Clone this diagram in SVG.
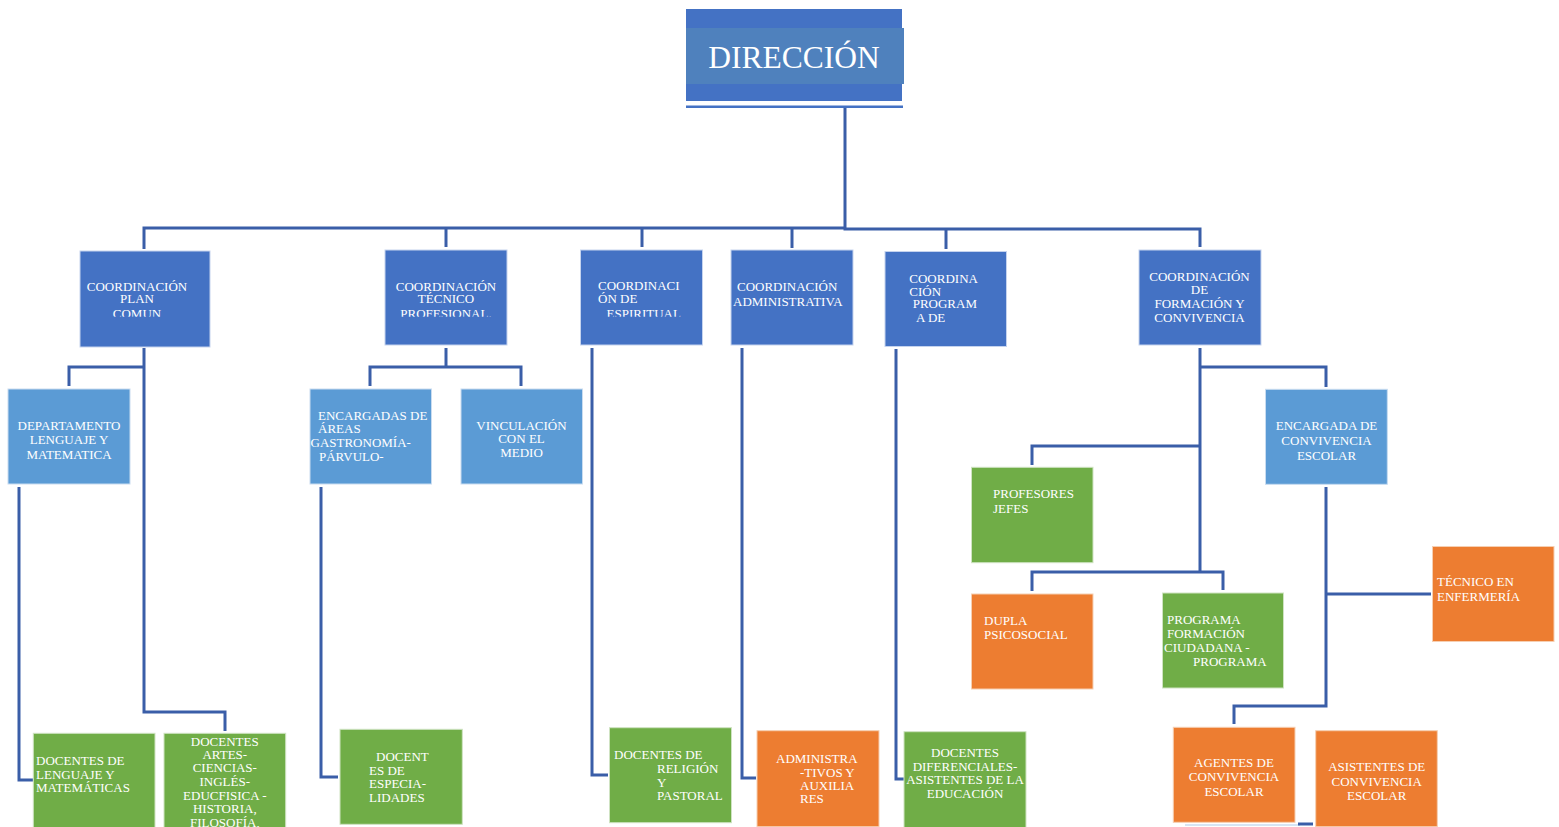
<svg xmlns="http://www.w3.org/2000/svg" width="1559" height="827" viewBox="0 0 1559 827">
<style>
text{font-family:"Liberation Serif","Times New Roman",serif;fill:#ffffff;font-size:13px}
.c{text-anchor:middle}
.dk{fill:#4472c4;stroke:#c5d3ee;stroke-width:1}
.lb{fill:#5b9bd5;stroke:#c9dcf0;stroke-width:1}
.gr{fill:#70ad47;stroke:#cfe3c2;stroke-width:1}
.or{fill:#ed7d31;stroke:#f6cfb2;stroke-width:1}
.ln{fill:none;stroke:#3a5ea8;stroke-width:3}
</style>
<defs>
<clipPath id="clipTop"><rect x="0" y="0" width="1559" height="316.8"/></clipPath>
</defs>
<rect width="1559" height="827" fill="#ffffff"/>

<g id="connectors">
<line x1="686" y1="106.7" x2="903" y2="106.7" stroke="#4472c4" stroke-width="2.5"/>
<polyline class="ln" points="845,108 845,229 1200,229 1200,247"/>
<polyline class="ln" points="845,228 144,228 144,249"/>
<line class="ln" x1="446" y1="228" x2="446" y2="247"/>
<line class="ln" x1="642" y1="228" x2="642" y2="247"/>
<line class="ln" x1="792" y1="228" x2="792" y2="248"/>
<line class="ln" x1="946" y1="229" x2="946" y2="249"/>
<polyline class="ln" points="144,348 144,712 225,712 225,731"/>
<polyline class="ln" points="144,367 69,367 69,386"/>
<polyline class="ln" points="19,487 19,780 33,780"/>
<line class="ln" x1="446" y1="348" x2="446" y2="367"/>
<polyline class="ln" points="370,386 370,367 521,367 521,386"/>
<polyline class="ln" points="321,487 321,777 338,777"/>
<polyline class="ln" points="592,348 592,775 608,775"/>
<polyline class="ln" points="742,348 742,778 756,778"/>
<polyline class="ln" points="896,349 896,779 904,779"/>
<line class="ln" x1="1200" y1="348" x2="1200" y2="573"/>
<polyline class="ln" points="1200,367 1326,367 1326,387"/>
<polyline class="ln" points="1200,446 1032,446 1032,465"/>
<polyline class="ln" points="1032,591 1032,572 1223,572 1223,590"/>
<polyline class="ln" points="1326,487 1326,706 1234,706 1234,724"/>
<line class="ln" x1="1326" y1="594" x2="1431" y2="594"/>
<line x1="1185" y1="825" x2="1300" y2="825" stroke="#c9dcf0" stroke-width="1.5"/>
<line x1="1298" y1="824" x2="1313" y2="824" stroke="#3a5ea8" stroke-width="3"/>
</g>

<g id="direccion">
<rect x="686" y="9" width="216" height="92" fill="#4472c4"/>
<rect x="686" y="28" width="218" height="56" fill="#4f81bd"/>
<text x="794" y="67.5" class="c" style="font-size:31.5px">DIRECCIÓN</text>
</g>

<g id="coord-plan-comun">
<rect class="dk" x="80" y="251" width="130" height="96"/>
<text x="137" y="290.7" class="c">COORDINACIÓN</text>
<text x="137" y="303.3" class="c">PLAN</text>
<text x="137" y="317.5" class="c" clip-path="url(#clipTop)">COMUN</text>
</g>

<g id="coord-tecnico">
<rect class="dk" x="385" y="250" width="122" height="95"/>
<text x="446" y="290.7" class="c">COORDINACIÓN</text>
<text x="446" y="303.3" class="c">TÉCNICO</text>
<text x="446" y="317.5" class="c" clip-path="url(#clipTop)">PROFESIONAL.</text>
</g>

<g id="coord-espiritual">
<rect class="dk" x="580.5" y="250" width="122" height="95"/>
<text x="598" y="290.3">COORDINACI</text>
<text x="598" y="302.7">ÓN DE</text>
<text x="606.5" y="317.5" clip-path="url(#clipTop)">ESPIRITUAL</text>
</g>

<g id="coord-administrativa">
<rect class="dk" x="731" y="250" width="122" height="95"/>
<text x="737" y="290.7">COORDINACIÓN</text>
<text x="733" y="305.7">ADMINISTRATIVA</text>
</g>

<g id="coord-programa">
<rect class="dk" x="885" y="251.5" width="121.5" height="95"/>
<text x="909.3" y="282.7">COORDINA</text>
<text x="909.3" y="295.7">CIÓN</text>
<text x="912.7" y="308.3">PROGRAM</text>
<text x="916" y="321.7">A DE</text>
</g>

<g id="coord-formacion">
<rect class="dk" x="1139" y="250" width="122" height="95"/>
<text x="1199.5" y="280.7" class="c">COORDINACIÓN</text>
<text x="1199.5" y="293.5" class="c">DE</text>
<text x="1199.5" y="307.5" class="c">FORMACIÓN Y</text>
<text x="1199.5" y="321.7" class="c">CONVIVENCIA</text>
</g>

<g id="departamento">
<rect class="lb" x="8" y="389" width="122" height="95"/>
<text x="69" y="430" class="c">DEPARTAMENTO</text>
<text x="69" y="444" class="c">LENGUAJE Y</text>
<text x="69" y="458.5" class="c">MATEMATICA</text>
</g>

<g id="encargadas-areas">
<rect class="lb" x="310" y="389" width="121.5" height="95"/>
<text x="318" y="420">ENCARGADAS DE</text>
<text x="318" y="433.3">ÁREAS</text>
<text x="310.5" y="446.7">GASTRONOMÍA-</text>
<text x="319" y="460.7">PÁRVULO-</text>
</g>

<g id="vinculacion">
<rect class="lb" x="461" y="389" width="121.5" height="95"/>
<text x="521.5" y="430" class="c">VINCULACIÓN</text>
<text x="521.5" y="442.5" class="c">CON EL</text>
<text x="521.5" y="456.5" class="c">MEDIO</text>
</g>

<g id="encargada-convivencia">
<rect class="lb" x="1265.5" y="389.3" width="121.8" height="95"/>
<text x="1326.5" y="430" class="c">ENCARGADA DE</text>
<text x="1326.5" y="444.7" class="c">CONVIVENCIA</text>
<text x="1326.5" y="460" class="c">ESCOLAR</text>
</g>

<g id="profesores-jefes">
<rect class="gr" x="971.5" y="467.3" width="121.5" height="95.4"/>
<text x="993" y="498.3">PROFESORES</text>
<text x="993" y="512.7">JEFES</text>
</g>

<g id="dupla">
<rect class="or" x="971.5" y="594" width="121.5" height="95"/>
<text x="984" y="625">DUPLA</text>
<text x="984" y="639">PSICOSOCIAL</text>
</g>

<g id="programa-formacion">
<rect class="gr" x="1162.5" y="593" width="121" height="95"/>
<text x="1167" y="624">PROGRAMA</text>
<text x="1167" y="638">FORMACIÓN</text>
<text x="1164" y="652">CIUDADANA -</text>
<text x="1193" y="666">PROGRAMA</text>
</g>

<g id="tecnico-enfermeria">
<rect class="or" x="1432.5" y="546.5" width="121.5" height="95"/>
<text x="1437" y="586">TÉCNICO EN</text>
<text x="1437" y="601">ENFERMERÍA</text>
</g>

<g id="docentes-lenguaje">
<rect class="gr" x="33.3" y="733.3" width="121.7" height="96"/>
<text x="36" y="765">DOCENTES DE</text>
<text x="36" y="779">LENGUAJE Y</text>
<text x="36" y="792">MATEMÁTICAS</text>
</g>

<g id="docentes-artes">
<rect class="gr" x="164" y="733.3" width="121.7" height="96"/>
<text x="224.8" y="746" class="c">DOCENTES</text>
<text x="224.8" y="758.5" class="c">ARTES-</text>
<text x="224.8" y="772" class="c">CIENCIAS-</text>
<text x="224.8" y="785.5" class="c">INGLÉS-</text>
<text x="224.8" y="799.5" class="c">EDUCFISICA -</text>
<text x="224.8" y="813" class="c">HISTORIA,</text>
<text x="224.8" y="827" class="c">FILOSOFÍA,</text>
</g>

<g id="docentes-especialidades">
<rect class="gr" x="340" y="729.3" width="122.3" height="95"/>
<text x="376" y="761">DOCENT</text>
<text x="369" y="774.5">ES DE</text>
<text x="369" y="788">ESPECIA-</text>
<text x="369" y="801.7">LIDADES</text>
</g>

<g id="docentes-religion">
<rect class="gr" x="609.5" y="727.7" width="122" height="95"/>
<text x="614" y="759.3">DOCENTES DE</text>
<text x="657" y="773">RELIGIÓN</text>
<text x="657" y="786.5">Y</text>
<text x="657" y="800">PASTORAL</text>
</g>

<g id="administrativos">
<rect class="or" x="757" y="730.7" width="122" height="96"/>
<text x="776" y="763">ADMINISTRA</text>
<text x="800" y="776.7">-TIVOS Y</text>
<text x="800" y="790.3">AUXILIA</text>
<text x="800" y="803">RES</text>
</g>

<g id="docentes-diferenciales">
<rect class="gr" x="904" y="731.7" width="122" height="96"/>
<text x="965" y="756.5" class="c">DOCENTES</text>
<text x="965" y="770.5" class="c">DIFERENCIALES-</text>
<text x="965" y="784.3" class="c">ASISTENTES DE LA</text>
<text x="965" y="798.3" class="c">EDUCACIÓN</text>
</g>

<g id="agentes-convivencia">
<rect class="or" x="1173.3" y="727.3" width="121.7" height="95"/>
<text x="1234" y="767" class="c">AGENTES DE</text>
<text x="1234" y="781" class="c">CONVIVENCIA</text>
<text x="1234" y="795.5" class="c">ESCOLAR</text>
</g>

<g id="asistentes-convivencia">
<rect class="or" x="1315.7" y="730.7" width="121.6" height="96"/>
<text x="1376.7" y="771" class="c">ASISTENTES DE</text>
<text x="1376.7" y="785.5" class="c">CONVIVENCIA</text>
<text x="1376.7" y="800" class="c">ESCOLAR</text>
</g>
</svg>
